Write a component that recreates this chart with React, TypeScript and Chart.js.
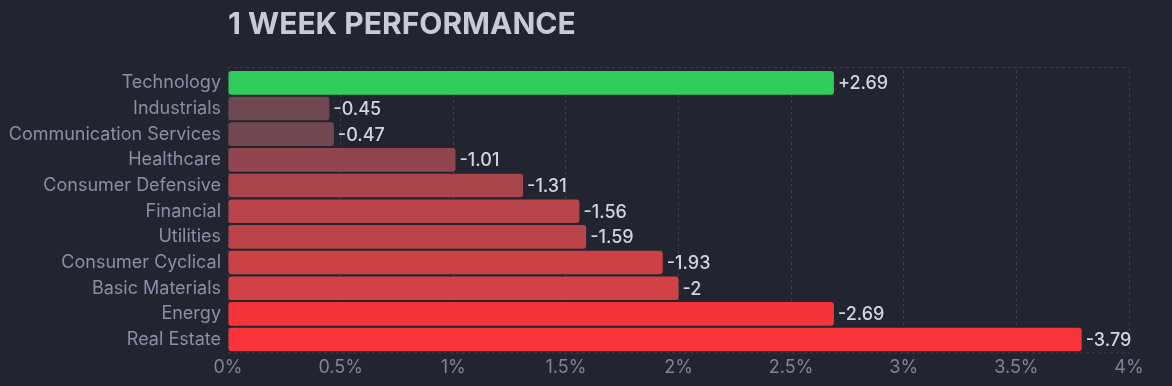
import React, { useEffect, useRef } from "react";
import { Chart, registerables } from "chart.js";

Chart.register(...registerables);

const categories = [
  "Technology",
  "Industrials",
  "Communication Services",
  "Healthcare",
  "Consumer Defensive",
  "Financial",
  "Utilities",
  "Consumer Cyclical",
  "Basic Materials",
  "Energy",
  "Real Estate",
];
const changes = [2.69, -0.45, -0.47, -1.01, -1.31, -1.56, -1.59, -1.93, -2, -2.69, -3.79];
const barColors = [
  "#2fcc5a",
  "#6f4750",
  "#714751",
  "#93454f",
  "#a7444c",
  "#b9434a",
  "#bc4249",
  "#cc4146",
  "#d34045",
  "#f5343a",
  "#f6343a",
];
const xTicks = [0, 0.5, 1, 1.5, 2, 2.5, 3, 3.5, 4];
const title = "1 WEEK PERFORMANCE";

const BG = "#22252f";
const GRID = "#3b3f4c";
const FONT = "Inter";

export default function App() {
  const ref = useRef<HTMLCanvasElement | null>(null);

  useEffect(() => {
    document.body.style.margin = "0";
    document.body.style.background = BG;
    const canvas = ref.current;
    if (!canvas) return;

    const overlay = {
      id: "overlay",
      beforeDraw(chart: any) {
        const { ctx, chartArea } = chart;
        ctx.save();
        ctx.fillStyle = BG;
        ctx.fillRect(0, 0, chart.width, chart.height);
        // title
        ctx.fillStyle = "#c9cad6";
        ctx.font = `bold 30px ${FONT}`;
        ctx.textBaseline = "middle";
        ctx.textAlign = "left";
        ctx.fillText(title, chartArea.left, 25);
        // top & bottom dashed lines
        ctx.strokeStyle = GRID;
        ctx.lineWidth = 1;
        ctx.setLineDash([3, 3]);
        ctx.beginPath();
        ctx.moveTo(chartArea.left, chartArea.top - 2.5);
        ctx.lineTo(chartArea.right, chartArea.top - 2.5);
        ctx.moveTo(chartArea.left, chartArea.bottom + 0.5);
        ctx.lineTo(chartArea.right, chartArea.bottom + 0.5);
        ctx.stroke();
        ctx.restore();
      },
      afterDatasetsDraw(chart: any) {
        const { ctx } = chart;
        const meta = chart.getDatasetMeta(0);
        ctx.save();
        ctx.fillStyle = "#d2d4de";
        ctx.font = `500 18px ${FONT}`;
        ctx.textBaseline = "middle";
        ctx.textAlign = "left";
        meta.data.forEach((bar: any, i: number) => {
          const v = changes[i];
          const txt = v > 0 ? `+${v}` : `${v}`;
          ctx.fillText(txt, bar.x + 4, bar.y + 1);
        });
        ctx.restore();
      },
    };

    const chart = new Chart(canvas, {
      type: "bar",
      data: {
        labels: categories,
        datasets: [
          {
            data: changes.map((v) => Math.abs(v)),
            backgroundColor: barColors,
            borderRadius: 3,
            borderSkipped: false,
            barPercentage: 1,
            categoryPercentage: 0.92,
          },
        ],
      },
      options: {
        indexAxis: "y",
        responsive: false,
        animation: false,
        layout: { padding: { top: 70, right: 43, bottom: 4, left: 8 } },
        plugins: {
          legend: { display: false },
          tooltip: { enabled: false },
          title: { display: false },
        },
        scales: {
          x: {
            min: 0,
            max: 4,
            afterBuildTicks: (axis: any) => {
              axis.ticks = xTicks.map((v) => ({ value: v }));
            },
            grid: {
              color: GRID,
              drawTicks: false,
            },
            border: { display: false, dash: [3, 3] },
            ticks: {
              color: "#7e849a",
              font: { family: FONT, size: 18 },
              padding: 4,
              callback: (v: any) => `${v}%`,
            },
          },
          y: {
            grid: { display: false, drawTicks: false },
            border: { display: false },
            afterFit: (axis: any) => {
              axis.width = 220;
            },
            ticks: {
              color: "#8a8fa6",
              font: { family: FONT, size: 18 },
              padding: 7,
            },
          },
        },
      },
      plugins: [overlay],
    } as any);

    return () => chart.destroy();
  }, []);

  return (
    <div style={{ width: 1172, height: 386, background: BG }}>
      <canvas ref={ref} width={1172} height={386} />
    </div>
  );
}
